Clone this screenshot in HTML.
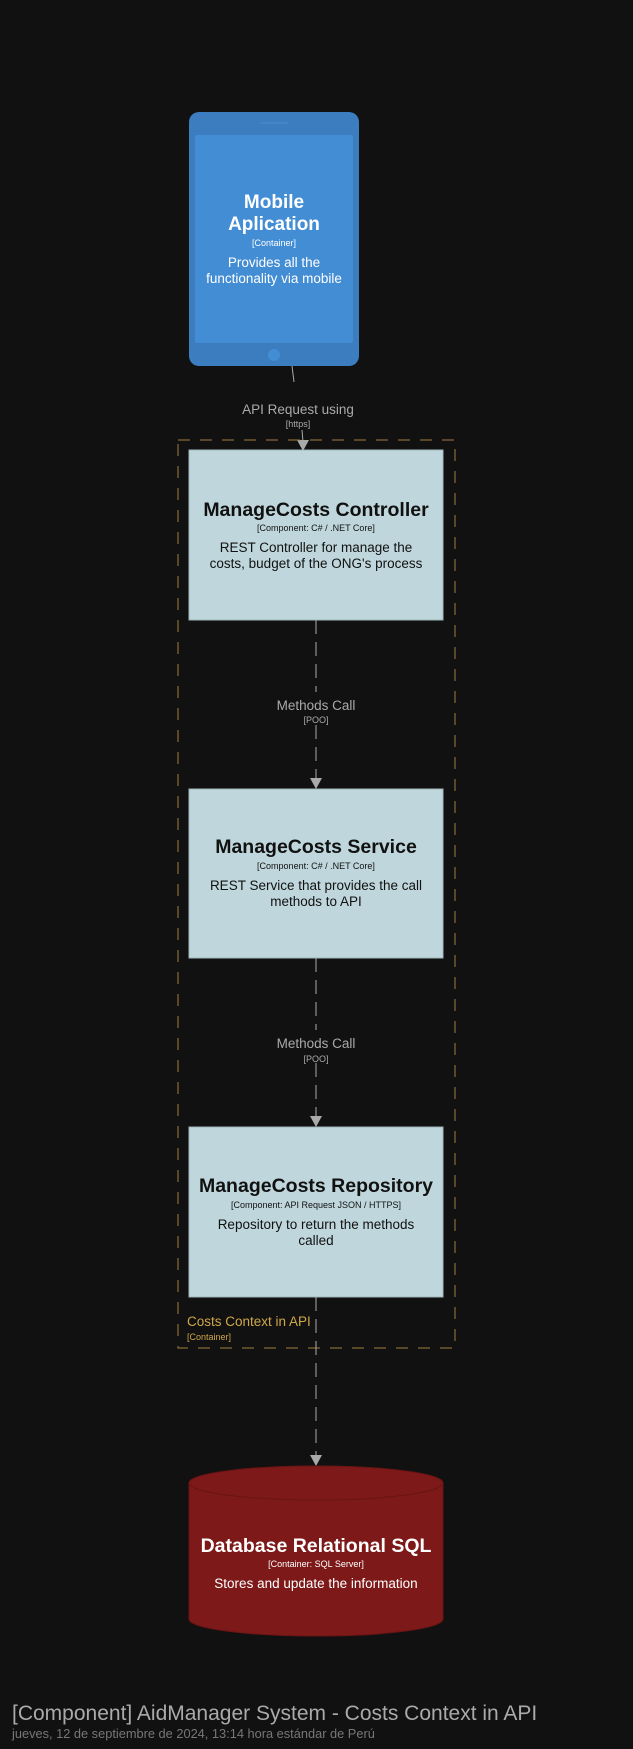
<!DOCTYPE html>
<html><head><meta charset="utf-8"><style>
html,body{margin:0;padding:0;background:#111111;}
svg{display:block;font-family:"Liberation Sans",sans-serif;}
</style></head><body>
<svg width="633" height="1749" viewBox="0 0 633 1749" xmlns="http://www.w3.org/2000/svg">
<rect width="633" height="1749" fill="#111111"/>
<!-- phone -->
<rect x="189" y="112" width="170" height="254" rx="10" fill="#3b7dbf"/>
<rect x="195" y="135" width="158" height="208" rx="2" fill="#438dd5"/>
<line x1="260" y1="123" x2="288" y2="123" stroke="#4a8ed0" stroke-width="1"/>
<circle cx="274" cy="355" r="6" fill="#438dd5"/>
<g fill="#ffffff" text-anchor="middle">
<text x="274" y="208" font-size="19" font-weight="bold">Mobile</text>
<text x="274" y="230" font-size="19" font-weight="bold">Aplication</text>
<text x="274" y="246" font-size="9">[Container]</text>
<text x="274" y="267" font-size="13.5">Provides all the</text>
<text x="274" y="283" font-size="13.5">functionality via mobile</text>
</g>
<!-- API connector -->
<line x1="292" y1="366" x2="294" y2="382" stroke="#aaaaaa" stroke-width="1"/>
<text x="298" y="414" font-size="13.5" fill="#aaaaaa" text-anchor="middle">API Request using</text>
<text x="298" y="427" font-size="9" fill="#aaaaaa" text-anchor="middle">[https]</text>
<line x1="302" y1="430" x2="303" y2="442" stroke="#aaaaaa" stroke-width="1"/>
<polygon points="297,440 309,440 303,451" fill="#aaaaaa"/>
<!-- boundary -->
<rect x="178" y="440" width="277" height="908" fill="none" stroke="#a08040" stroke-width="1" stroke-dasharray="12,10"/>
<text x="187" y="1326" font-size="13.5" fill="#d0a848">Costs Context in API</text>
<text x="187" y="1340" font-size="9" fill="#d0a848">[Container]</text>
<!-- connectors -->
<g stroke="#aaaaaa" stroke-width="1" stroke-dasharray="14,8">
<line x1="316" y1="620" x2="316" y2="692"/>
<line x1="316" y1="725" x2="316" y2="780"/>
<line x1="316" y1="958" x2="316" y2="1030"/>
<line x1="316" y1="1063" x2="316" y2="1118"/>
<line x1="316" y1="1297" x2="316" y2="1457"/>
</g>
<g fill="#aaaaaa">
<polygon points="310,778 322,778 316,789"/>
<polygon points="310,1116 322,1116 316,1127"/>
<polygon points="310,1455 322,1455 316,1466"/>
</g>
<g fill="#aaaaaa" text-anchor="middle">
<text x="316" y="710" font-size="13.5">Methods Call</text>
<text x="316" y="723" font-size="9">[POO]</text>
<text x="316" y="1048" font-size="13.5">Methods Call</text>
<text x="316" y="1062" font-size="9">[POO]</text>
</g>
<!-- components -->
<g fill="#bfd7dc" stroke="#9fb5ba" stroke-width="1">
<rect x="189" y="450" width="254" height="170"/>
<rect x="189" y="789" width="254" height="169"/>
<rect x="189" y="1127" width="254" height="170"/>
</g>
<g fill="#111111" text-anchor="middle">
<text x="316" y="516" font-size="19.5" font-weight="bold">ManageCosts Controller</text>
<text x="316" y="531" font-size="9">[Component: C# / .NET Core]</text>
<text x="316" y="552" font-size="13.5">REST Controller for manage the</text>
<text x="316" y="568" font-size="13.5">costs, budget of the ONG's process</text>
<text x="316" y="853" font-size="19.5" font-weight="bold">ManageCosts Service</text>
<text x="316" y="869" font-size="9">[Component: C# / .NET Core]</text>
<text x="316" y="890" font-size="13.5">REST Service that provides the call</text>
<text x="316" y="906" font-size="13.5">methods to API</text>
<text x="316" y="1192" font-size="19.5" font-weight="bold">ManageCosts Repository</text>
<text x="316" y="1208" font-size="9">[Component: API Request JSON / HTTPS]</text>
<text x="316" y="1229" font-size="13.5">Repository to return the methods</text>
<text x="316" y="1245" font-size="13.5">called</text>
</g>
<!-- database -->
<path d="M189,1483 A127,17 0 0 1 443,1483 L443,1619 A127,17 0 0 1 189,1619 Z" fill="#7e1919" stroke="#6a1414" stroke-width="1"/>
<path d="M189,1483 A127,17 0 0 0 443,1483" fill="none" stroke="#6a1414" stroke-width="1"/>
<g fill="#ffffff" text-anchor="middle">
<text x="316" y="1552" font-size="19.5" font-weight="bold">Database Relational SQL</text>
<text x="316" y="1567" font-size="9">[Container: SQL Server]</text>
<text x="316" y="1588" font-size="13.5">Stores and update the information</text>
</g>
<!-- footer -->
<text x="12" y="1720" font-size="21" fill="#aaaaaa">[Component] AidManager System - Costs Context in API</text>
<text x="12" y="1738" font-size="12.8" fill="#777777">jueves, 12 de septiembre de 2024, 13:14 hora estándar de Perú</text>
</svg>
</body></html>
